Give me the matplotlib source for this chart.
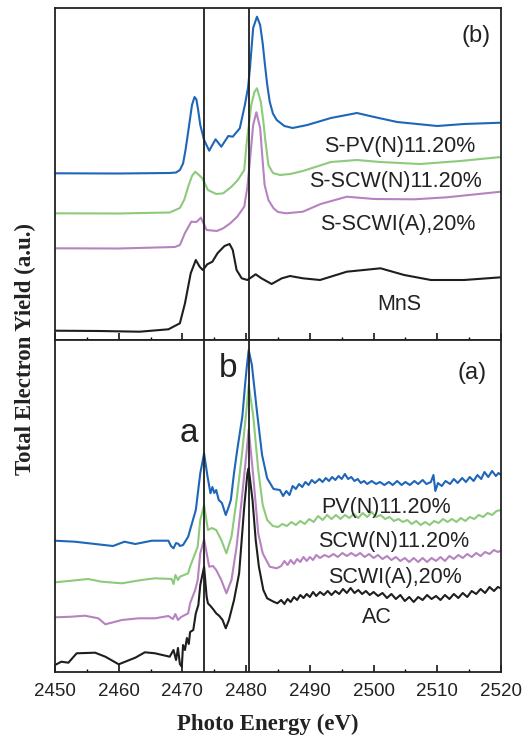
import matplotlib
matplotlib.use("Agg")
import matplotlib.pyplot as plt
from matplotlib.ticker import MultipleLocator

# ---------------- data (energy in eV, intensity in arbitrary units) ----------------
# Panel (b): sulfur-based references
tb_e = [2450, 2460, 2468, 2469, 2469.6, 2470.1, 2470.5, 2471.0, 2471.5, 2471.9, 2472.2, 2472.5, 2472.8,
        2473.4, 2474.2, 2475.2, 2476.1, 2477.2, 2477.9, 2479.0, 2479.8, 2480.3, 2480.6, 2481.1, 2481.7,
        2482.2, 2482.6, 2482.9, 2483.3, 2483.7, 2484.2, 2484.8, 2486.0, 2487.3, 2489.6, 2493.3, 2497.4,
        2500.1, 2503.7, 2510, 2514.2, 2520]
tb_i = [166.2, 166, 166.5, 167, 169.5, 176, 190, 212, 234.5, 242.5, 240, 228, 214.5,
        199.5, 188.8, 200.2, 192.8, 203.5, 202.8, 211.2, 234.5, 252, 271.5, 311.5, 322.8,
        314.5, 296, 277.8, 255, 237.8, 226, 219.5, 213.5, 211.5, 214.5, 221.5, 226.5,
        222.5, 217.5, 213.5, 215.5, 216.8]

tg_e = [2450, 2460, 2468, 2469.6, 2470.3, 2470.9, 2471.5, 2472.0, 2472.5, 2473.1, 2474.0, 2475.3, 2476.4,
        2477.7, 2478.7, 2479.7, 2480.1, 2480.8, 2481.3, 2481.7, 2482.3, 2482.7, 2483.0, 2483.5, 2484.2,
        2485.3, 2486.9, 2488.9, 2493.3, 2497.4, 2501, 2507.3, 2513.6, 2520]
tg_i = [126.2, 126, 127, 131.5, 140, 152.8, 163.5, 167.8, 165, 161.5, 149.5, 145.5, 146.2,
        152.8, 159.5, 169.5, 197.8, 234.5, 247.5, 251.2, 237.8, 218, 199.5, 174.5, 166.5,
        164.5, 165.5, 168.5, 177.5, 179.5, 177.5, 175.5, 178.5, 182.5]

tp_e = [2450, 2460, 2468.8, 2469.6, 2470.4, 2471.4, 2472.2, 2472.9, 2473.8, 2475.4, 2476.4, 2477.5,
        2478.6, 2479.7, 2480.2, 2480.6, 2481.1, 2481.6, 2482.2, 2482.6, 2482.9, 2483.5, 2484.3, 2485.0,
        2486.3, 2488.9, 2491.7, 2495.8, 2500.1, 2506.4, 2511.5, 2520]
tp_i = [91.2, 91, 92.5, 94.5, 106.5, 117.8, 117.5, 121.8, 109.5, 108.5, 111.2, 116.2,
        122.8, 132.8, 152.8, 179.5, 214.5, 227.2, 211.5, 177.8, 154.5, 139.5, 131.2, 127.5,
        126.2, 127.8, 135.5, 142.8, 140.5, 140.2, 142.2, 147.8]

tk_e = [2450, 2457, 2463.3, 2467.8, 2469.6, 2470.4, 2471.3, 2472.1, 2472.7, 2473.2, 2473.9, 2474.7,
        2475.5, 2476.6, 2477.4, 2477.9, 2478.5, 2479.3, 2480.2, 2481.5, 2482.4, 2484.0, 2485.6, 2486.9,
        2488.9, 2491.6, 2495.8, 2501.1, 2504.8, 2509, 2514.2, 2520]
tk_i = [8.8, 8.5, 7.8, 10.2, 16.2, 36.2, 66.2, 79.5, 72.8, 69.5, 75.2, 77.8,
        86.2, 93.5, 95.5, 89.5, 69.5, 61.2, 59.5, 65.2, 61.2, 55.5, 61.2, 63.5,
        61.2, 59.5, 67.8, 71.2, 64.5, 59.5, 59.5, 62.2]

# Panel (a): samples
bb_e = [2450, 2453.1, 2456.3, 2459.1, 2460.9, 2462.6, 2465.2, 2467.8, 2468.2, 2468.6, 2469.0, 2469.4,
        2469.6, 2470.1, 2470.9, 2471.2, 2472.1, 2472.8, 2473.4, 2473.9, 2474.4, 2474.7, 2475.0, 2475.3,
        2475.7, 2476.2, 2476.8, 2477.2, 2477.6, 2478.1, 2478.6, 2479.4, 2479.8, 2480.1, 2480.4, 2480.9,
        2481.7, 2482.5, 2483.3, 2484.3,
        2485.3, 2485.8, 2486.3, 2486.8, 2487.3, 2487.8, 2488.3, 2488.8, 2489.3, 2489.8, 2490.3, 2490.8,
        2491.5, 2492.0, 2492.5, 2493.0, 2493.5, 2494.0, 2494.5, 2495.0, 2495.5, 2496.0, 2496.5, 2497.0,
        2497.5, 2498.0, 2498.5, 2499.0, 2499.7, 2500.4, 2501.0, 2501.7, 2502.4, 2503.0, 2503.7, 2504.4,
        2505.0, 2505.7, 2506.4, 2507.0, 2507.7, 2508.3, 2509.0, 2509.4, 2509.7, 2510.1, 2510.7, 2511.3,
        2512.0, 2512.6, 2513.2, 2513.9, 2514.5, 2515.1, 2515.7, 2516.3, 2516.9, 2517.4, 2518.0, 2518.6,
        2519.2, 2519.6, 2520]
bb_i = [131.3, 130.3, 128, 126, 130.3, 128, 131.3, 131.3, 126, 123.7, 129, 128,
        126, 127, 135.3, 142, 162, 198.7, 218.7, 197, 178.7, 185, 179, 182,
        172, 169, 157, 164, 172, 199, 222, 255.3, 285, 305, 322, 307,
        260.3, 217, 193.7, 183,
        182, 176, 181, 177, 186, 183, 188, 185, 190, 187, 192, 189,
        193, 190, 194, 191, 195, 192, 196, 193, 198, 193, 195, 191,
        193, 189, 191, 188, 191, 188, 190, 187, 190, 187, 191, 187,
        190, 187, 191, 188, 192, 188, 190, 197, 181, 189, 186, 191,
        188, 193, 189, 194, 190, 195, 191, 197, 193, 200, 195, 201,
        196, 199, 197]

bg_e = [2450, 2452.6, 2455.2, 2457.3, 2460.5, 2463.6, 2465.7, 2468.3, 2468.6, 2468.9, 2469.3, 2469.6,
        2470.9, 2471.2, 2472.0, 2472.4, 2472.8, 2473.4, 2474.0, 2474.6, 2475.3, 2476.1, 2476.9, 2477.7,
        2478.5, 2479.3, 2480.1, 2480.4, 2481.1, 2481.9, 2482.6, 2483.3, 2484.2,
        2485.0, 2485.7, 2486.4, 2487.1, 2487.8, 2488.5, 2489.2, 2489.9, 2490.6, 2491.3, 2492.0, 2492.7,
        2493.4, 2494.1, 2494.8, 2495.5, 2496.2, 2496.9, 2497.6, 2498.3, 2499.0, 2499.7, 2500.4, 2501.1,
        2501.8, 2502.5, 2503.2, 2503.9, 2504.6, 2505.3, 2506.0, 2506.7, 2507.4, 2508.1, 2508.8, 2509.5,
        2510.2, 2510.9, 2511.6, 2512.3, 2513.0, 2513.7, 2514.4, 2515.1, 2515.8, 2516.5, 2517.2, 2517.9,
        2518.6, 2519.3, 2520]
bg_i = [89.7, 91.3, 93, 90.3, 88.7, 92, 93.7, 93, 88, 97, 92, 95.3,
        98.7, 105.3, 118.7, 125.3, 152, 167, 142, 144, 142, 132, 118.7, 135.3,
        172, 215.3, 265.3, 287, 257, 202, 167, 152, 146,
        145, 148, 146, 150, 147, 151, 148, 153, 150, 156, 152, 157,
        153, 157, 153, 157, 154, 158, 154, 159, 155, 160, 155, 157,
        153, 155, 151, 153, 150, 152, 148, 151, 147, 150, 147, 151,
        149, 153, 150, 153, 150, 154, 151, 155, 153, 157, 155, 159,
        157, 161, 162]

bp_e = [2450, 2452.6, 2454.7, 2456.8, 2457.9, 2460.5, 2463.1, 2465.7, 2467.8, 2468.5, 2468.9, 2469.3,
        2469.8, 2470.9, 2471.2, 2472.0, 2472.4, 2472.8, 2473.4, 2474.2, 2474.8, 2475.3, 2476.1, 2476.9,
        2477.7, 2478.5, 2479.3, 2480.1, 2480.4, 2481.1, 2481.9, 2482.6, 2483.7, 2484.8,
        2485.5, 2486.0, 2486.5, 2487.0, 2487.5, 2488.0, 2488.5, 2489.0, 2489.5, 2490.0, 2490.5, 2491.0,
        2491.6, 2492.3, 2493.0, 2493.7, 2494.4, 2495.1, 2495.8, 2496.5, 2497.2, 2497.9, 2498.6, 2499.3,
        2500.0, 2500.7, 2501.4, 2502.1, 2502.8, 2503.5, 2504.2, 2504.9, 2505.6, 2506.3, 2507.0, 2507.7,
        2508.4, 2509.1, 2509.8, 2510.5, 2511.2, 2511.9, 2512.6, 2513.3, 2514.0, 2514.7, 2515.4, 2516.1,
        2516.8, 2517.5, 2518.2, 2518.9, 2519.5, 2520]
bp_i = [54.7, 55.3, 56.3, 53.7, 47.7, 52, 53.7, 53.7, 56, 53, 58, 52,
        55, 58.7, 68.7, 82, 92, 118.7, 132.7, 105.3, 106, 102, 92, 78.7,
        92, 125.3, 172, 222, 242.7, 197, 138.7, 118.7, 105.3, 103.7,
        106, 111, 107, 112, 108, 113, 110, 115, 111, 115, 112, 117,
        114, 117, 115, 118, 115, 119, 116, 119, 116, 119, 115, 118,
        114, 117, 113, 116, 112, 115, 111, 114, 110, 114, 110, 114,
        110, 114, 111, 115, 111, 116, 113, 117, 114, 118, 115, 119,
        116, 120, 118, 122, 120, 121.3]

bk_e = [2450, 2451.0, 2452.1, 2453.4, 2456.3, 2457.9, 2460.0, 2462.6, 2464.1, 2465.7, 2468.0, 2468.6,
        2469.0, 2469.3, 2469.6, 2469.9, 2470.1, 2470.4, 2470.7, 2471.0, 2471.2, 2471.7, 2472.1, 2472.5,
        2472.8, 2473.4, 2473.8, 2474.0, 2474.4, 2474.8, 2475.3, 2475.8, 2476.3, 2476.8, 2477.3, 2478.1,
        2478.9, 2479.7, 2480.2, 2480.4, 2481.0, 2481.5, 2482.0, 2482.7, 2483.3, 2484.3, 2484.9,
        2485.5, 2486.0, 2486.5, 2487.0, 2487.5, 2488.0, 2488.5, 2489.0, 2489.5, 2490.0, 2490.5, 2491.0,
        2491.6, 2492.2, 2492.8, 2493.4, 2494.0, 2494.6, 2495.2, 2495.8, 2496.4, 2497.0, 2497.6, 2498.2,
        2498.8, 2499.4, 2500.0, 2500.7, 2501.4, 2502.1, 2502.8, 2503.5, 2504.2, 2504.9, 2505.6, 2506.3,
        2507.0, 2507.7, 2508.4, 2509.1, 2509.8, 2510.5, 2511.2, 2511.9, 2512.6, 2513.3, 2514.0, 2514.7,
        2515.4, 2516.1, 2516.8, 2517.5, 2518.2, 2518.9, 2519.5, 2520]
bk_i = [7, 10.3, 9.3, 18.7, 19.3, 15.3, 7.7, 14.3, 19.7, 18.7, 15.3, 22,
        12, 24, 8, 5.3, 27, 22, 34, 28, 40, 42, 58.7, 67,
        87, 105.3, 75.3, 68.7, 66, 63, 58.7, 56, 52, 43.7, 52, 72,
        98.7, 165.3, 198.7, 203.7, 172, 132, 105.3, 82, 73.7, 70.3, 68.7,
        72, 68, 73, 70, 75, 72, 77, 74, 78, 75, 80, 76,
        80, 77, 81, 77, 81, 78, 83, 79, 84, 79, 82, 78,
        81, 77, 80, 76, 79, 74, 78, 73, 77, 71, 75, 70,
        75, 72, 77, 73, 76, 72, 77, 73, 78, 74, 79, 75,
        81, 78, 83, 79, 85, 81, 85, 83.7]

top_labels = ["S-PV(N)11.20%", "S-SCW(N)11.20%", "S-SCWI(A),20%", "MnS"]
bot_labels = ["PV(N)11.20%", "SCW(N)11.20%", "SCWI(A),20%", "AC"]
peak_lines = [2473.4, 2480.4]
x_ticks = [2450, 2460, 2470, 2480, 2490, 2500, 2510, 2520]

# ---------------- styling ----------------
BLUE = "#1f66b8"
GREEN = "#8dca7c"
PURPLE = "#b683c0"
BLACK = "#1e1e1e"
LW = 1.5

plt.rcParams['font.family'] = ['Liberation Sans', 'DejaVu Sans']

fig = plt.figure(figsize=(5.28, 7.36), dpi=100)
left, right = 55 / 528, 501 / 528
y_top, y_mid, y_bot = 1 - 8 / 736, 1 - 339.5 / 736, 1 - 672 / 736
ax_t = fig.add_axes([left, y_mid, right - left, y_top - y_mid])
ax_b = fig.add_axes([left, y_bot, right - left, y_mid - y_bot])

for e, i, c in [(tb_e, tb_i, BLUE), (tg_e, tg_i, GREEN), (tp_e, tp_i, PURPLE), (tk_e, tk_i, BLACK)]:
    ax_t.plot(e, i, color=c, lw=LW, solid_joinstyle='round')
for e, i, c in [(bb_e, bb_i, BLUE), (bg_e, bg_i, GREEN), (bp_e, bp_i, PURPLE), (bk_e, bk_i, BLACK)]:
    ax_b.plot(e, i, color=c, lw=LW, solid_joinstyle='round')

ax_t.set_ylim(0, 331.5)
ax_b.set_ylim(0, 332.5)

for ax in (ax_t, ax_b):
    ax.set_xlim(2450, 2520)
    for xv in peak_lines:
        ax.axvline(xv, color=BLACK, lw=1.3, zorder=5)
    ax.set_yticks([])
    for s in ax.spines.values():
        s.set_linewidth(1.3)
        s.set_color("#222222")
    ax.xaxis.set_minor_locator(MultipleLocator(5))
    ax.set_xticks(x_ticks)
    ax.tick_params(axis='x', which='major', direction='in', length=5, width=1.1, top=False)
    ax.tick_params(axis='x', which='minor', direction='in', length=2.5, width=1.0, top=False)

ax_t.tick_params(axis='x', which='both', labelbottom=False)
ax_b.tick_params(axis='x', which='major', labelsize=13.5, pad=8, labelcolor="#222222")

lab_kw = dict(fontsize=15.5, ha='center', va='baseline', color="#222222")
ax_t.text(2504.07, 187.5, top_labels[0], **lab_kw)
ax_t.text(2503.36, 152.5, top_labels[1], **lab_kw)
ax_t.text(2503.83, 109.5, top_labels[2], **lab_kw)
ax_t.text(2504.0, 29.5, top_labels[3], **lab_kw)
ax_t.text(2516.1, 303.5, "(b)", fontsize=17, ha='center', va='center', color="#222222")

ax_b.text(2502.03, 159, bot_labels[0], **lab_kw)
ax_b.text(2503.2, 125, bot_labels[1], **lab_kw)
ax_b.text(2503.36, 89, bot_labels[2], **lab_kw)
ax_b.text(2500.54, 49, bot_labels[3], **lab_kw)
ax_b.text(2515.4, 299, "(a)", fontsize=17, ha='center', va='center', color="#222222")
ax_b.text(2470.95, 230, "a", fontsize=24, ha='center', va='baseline', color="#222222")
ax_b.text(2477.15, 295, "b", fontsize=24, ha='center', va='baseline', color="#222222")

fig.text(268 / 528, 1 - 730 / 736, "Photo Energy (eV)", family=['Liberation Serif'], fontweight='bold',
         fontsize=16.5, ha='center', va='baseline', color="#222222")
fig.text(25 / 528, 1 - 349 / 736, "Total Electron Yield (a.u.)", family=['Liberation Serif'],
         fontweight='bold', fontsize=16.5, ha='center', va='center', rotation=90, color="#222222")

fig.savefig("out.png", dpi=100)
